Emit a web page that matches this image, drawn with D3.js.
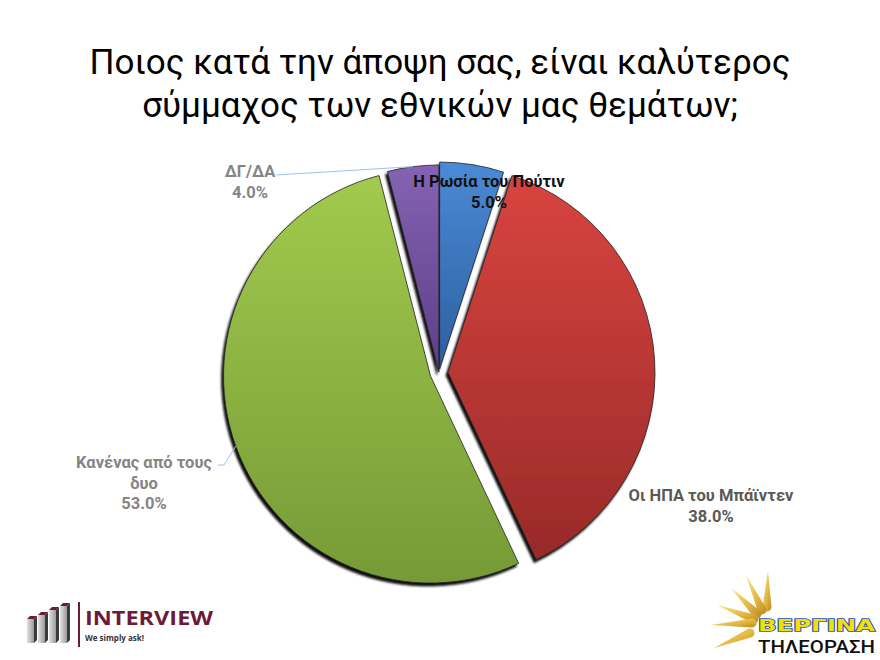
<!DOCTYPE html>
<html><head><meta charset="utf-8">
<script src="https://cdn.jsdelivr.net/npm/d3@7"></script>
<style>body{margin:0;background:#fff}</style></head>
<body><svg id="c" width="880" height="660"></svg>
<script>
// ---------- DATA ----------
const titleLines = ["Ποιος κατά την άποψη σας, είναι καλύτερος", "σύμμαχος των εθνικών μας θεμάτων;"];
const categories = ["Η Ρωσία του Πούτιν", "Οι ΗΠΑ του Μπάϊντεν", "Κανένας από τους δυο", "ΔΓ/ΔΑ"];
const labelLines = [["Η Ρωσία του Πούτιν"], ["Οι ΗΠΑ του Μπάϊντεν"], ["Κανένας από τους", "δυο"], ["ΔΓ/ΔΑ"]];
const values = [5.0, 38.0, 53.0, 4.0];
const valueLabels = ["5.0%", "38.0%", "53.0%", "4.0%"];

// ---------- STYLE ----------
const W = 880, H = 660;
const cx = 439, cy = 373, R = 207;
const explode = [4, 9, 9, 1];
const topColors = ["#4b8ad6", "#d9443f", "#a2ca4c", "#8463b3"];
const botColors = ["#2c5f9f", "#982a29", "#769a37", "#5c3e86"];
const labelStyle = [
  {x: 489, y: 187, color: "#111"},
  {x: 711, y: 501, color: "#595959"},
  {x: 144, y: 468, color: "#858585"},
  {x: 250, y: 177, color: "#858585"}
];
const lineGap = 20.5;

const svg = d3.select("#c");
svg.append("rect").attr("width", W).attr("height", H).attr("fill", "#fff");
const defs = svg.append("defs");

// gradients
categories.forEach((c, i) => {
  const g = defs.append("linearGradient").attr("id", "g" + i)
    .attr("x1", 0).attr("y1", 0).attr("x2", 0).attr("y2", 1);
  g.append("stop").attr("offset", "0%").attr("stop-color", topColors[i]);
  g.append("stop").attr("offset", "100%").attr("stop-color", botColors[i]);
});
const f = defs.append("filter").attr("id", "sh").attr("x", "-10%").attr("y", "-10%").attr("width", "120%").attr("height", "120%");
f.append("feDropShadow").attr("dx", -2).attr("dy", 3).attr("stdDeviation", 1.1)
  .attr("flood-color", "#000").attr("flood-opacity", 0.95);

// title
svg.append("g").selectAll("text").data(titleLines).join("text")
  .attr("x", W / 2).attr("y", (d, i) => 74 + i * 43)
  .attr("text-anchor", "middle")
  .attr("font-family", "Roboto, 'Noto Sans', sans-serif")
  .attr("font-size", 35).attr("fill", "#000")
  .text(d => d);

// pie
const pie = d3.pie().sort(null).value(d => d)(values);
const arc = d3.arc().innerRadius(0).outerRadius(R);
const sliceCenter = d => {
  const a = (d.startAngle + d.endAngle) / 2;
  const e = explode[d.index];
  return [cx + e * Math.sin(a), cy - e * Math.cos(a)];
};
svg.append("g").selectAll("path").data(pie).join("path")
  .attr("transform", d => `translate(${sliceCenter(d)})`)
  .attr("d", arc)
  .attr("fill", d => `url(#g${d.index})`)
  .attr("stroke", "#222").attr("stroke-width", 0.8)
  .attr("filter", "url(#sh)");

// leader lines
const leaderCol = "#9dc3e6";
const edgePoint = d => {
  const a = (d.startAngle + d.endAngle) / 2;
  const c = sliceCenter(d);
  return [c[0] + R * Math.sin(a), c[1] - R * Math.cos(a)];
};
const lp3 = edgePoint(pie[3]);
svg.append("path").attr("d", d3.line()([[276, 175], lp3]))
  .attr("stroke", leaderCol).attr("stroke-width", 1).attr("fill", "none");
const lp2 = edgePoint(pie[2]);
svg.append("path").attr("d", d3.line()([[218, 465], [224, 465], lp2]))
  .attr("stroke", leaderCol).attr("stroke-width", 1).attr("fill", "none");

// labels
const lg = svg.append("g").attr("font-family", "Roboto, 'Noto Sans', sans-serif")
  .attr("font-weight", "bold").attr("font-size", 16.5).attr("text-anchor", "middle");
categories.forEach((c, i) => {
  const s = labelStyle[i];
  const lines = labelLines[i].concat([valueLabels[i]]);
  lg.append("g").selectAll("text").data(lines).join("text")
    .attr("x", s.x).attr("y", (d, k) => s.y + k * lineGap)
    .attr("fill", s.color).text(d => d);
});

// ---------- INTERVIEW logo ----------
const logo = svg.append("g");
const bars = [{x: 27, t: 616}, {x: 38, t: 612}, {x: 49, t: 607}, {x: 60, t: 603}];
const bgrad = defs.append("linearGradient").attr("id", "bar").attr("x1", 0).attr("x2", 1).attr("y1", 0).attr("y2", 0);
bgrad.append("stop").attr("offset", "0%").attr("stop-color", "#e2e2e2");
bgrad.append("stop").attr("offset", "100%").attr("stop-color", "#9a9a9a");
bars.forEach(b => {
  logo.append("rect").attr("x", b.x).attr("y", b.t + 3).attr("width", 7).attr("height", 643 - b.t - 3).attr("fill", "url(#bar)");
  logo.append("path").attr("d", `M${b.x + 7},${b.t + 3} L${b.x + 10},${b.t} L${b.x + 10},${640} L${b.x + 7},${643} Z`).attr("fill", "#3a3a3a");
  logo.append("path").attr("d", `M${b.x},${b.t + 3} L${b.x + 3},${b.t} L${b.x + 10},${b.t} L${b.x + 7},${b.t + 3} Z`).attr("fill", "#6d1a3a");
});
logo.append("rect").attr("x", 78).attr("y", 602).attr("width", 2).attr("height", 45).attr("fill", "#6d1a3a");
logo.append("text").attr("x", 85).attr("y", 625).attr("font-family", "'Open Sans', sans-serif")
  .attr("font-weight", "bold").attr("font-size", 19).attr("fill", "#6d1a3a")
  .attr("textLength", 128).attr("lengthAdjust", "spacingAndGlyphs").text("INTERVIEW");
logo.append("text").attr("x", 85).attr("y", 641).attr("font-family", "'Open Sans', sans-serif")
  .attr("font-weight", "bold").attr("font-size", 8).attr("fill", "#333").text("We simply ask!");

// ---------- Vergina logo ----------
const vg = svg.append("g");
const gold = defs.append("linearGradient").attr("id", "gold").attr("x1", 0).attr("y1", 0).attr("x2", 1).attr("y2", 1);
gold.append("stop").attr("offset", "0%").attr("stop-color", "#fbe98a");
gold.append("stop").attr("offset", "60%").attr("stop-color", "#e2b43e");
gold.append("stop").attr("offset", "100%").attr("stop-color", "#b98a22");
const rays = [
  [[768, 571], [767, 607]], [[746, 575], [762, 610]], [[731, 588], [757, 614]],
  [[717, 605], [754, 619]], [[711, 625], [752, 623]], [[714, 648], [750, 633]]
];
rays.forEach(([t, b]) => {
  const dx = b[0] - t[0], dy = b[1] - t[1], L = Math.hypot(dx, dy);
  const nx = -dy / L, ny = dx / L, w = 4.5;
  const p1 = [b[0] + nx * w, b[1] + ny * w], p2 = [b[0] - nx * w, b[1] - ny * w];
  vg.append("path").attr("d", `M${t[0]},${t[1]} L${p1[0]},${p1[1]} A${w},${w} 0 0 0 ${p2[0]},${p2[1]} Z`)
    .attr("fill", "url(#gold)");
});
vg.append("text").attr("x", 758).attr("y", 631).attr("font-family", "'DejaVu Sans', sans-serif")
  .attr("font-weight", "bold").attr("font-size", 15).attr("fill", "#f2e000")
  .attr("stroke", "#1f4fbf").attr("stroke-width", 1.5).attr("paint-order", "stroke")
  .attr("textLength", 117).attr("lengthAdjust", "spacingAndGlyphs").text("ΒΕΡΓΙΝΑ");
vg.append("text").attr("x", 758).attr("y", 653).attr("font-family", "Roboto, sans-serif")
  .attr("font-weight", 500).attr("font-size", 19).attr("fill", "#111")
  .attr("textLength", 117).attr("lengthAdjust", "spacingAndGlyphs").text("ΤΗΛΕΟΡΑΣΗ");
</script></body></html>
